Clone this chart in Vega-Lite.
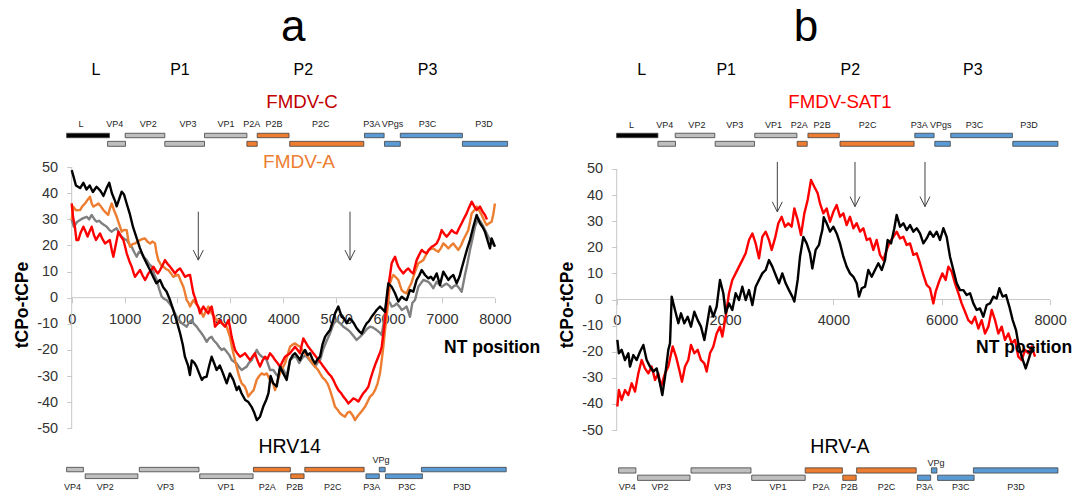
{
"$schema":"https://vega.github.io/schema/vega-lite/v6.json",
"padding":0,"spacing":0,"bounds":"flush",
"config":{"view":{"stroke":null},"font":"Liberation Sans"},
"datasets":{
"A":[
{"s":"g","x":0,"y":29.8},{"s":"g","x":40,"y":27.2},{"s":"g","x":100,"y":29},{"s":"g","x":158,"y":29.8},{"s":"g","x":220,"y":30.5},{"s":"g","x":284,"y":31},{"s":"g","x":330,"y":30},{"s":"g","x":378,"y":31.7},{"s":"g","x":430,"y":30},{"s":"g","x":473,"y":29.1},{"s":"g","x":520,"y":29.5},{"s":"g","x":567,"y":28.5},{"s":"g","x":620,"y":27.8},{"s":"g","x":662,"y":27.2},{"s":"g","x":710,"y":26},{"s":"g","x":756,"y":25.3},{"s":"g","x":800,"y":26},{"s":"g","x":851,"y":26.6},{"s":"g","x":900,"y":24.5},{"s":"g","x":945,"y":23.4},{"s":"g","x":990,"y":22.5},{"s":"g","x":1040,"y":22.1},{"s":"g","x":1090,"y":20.5},{"s":"g","x":1134,"y":19.5},{"s":"g","x":1180,"y":17.5},{"s":"g","x":1229,"y":15.7},{"s":"g","x":1270,"y":17.5},{"s":"g","x":1323,"y":17},{"s":"g","x":1370,"y":15.5},{"s":"g","x":1418,"y":14.4},{"s":"g","x":1460,"y":13},{"s":"g","x":1512,"y":11.9},{"s":"g","x":1560,"y":9},{"s":"g","x":1607,"y":6.8},{"s":"g","x":1650,"y":3.5},{"s":"g","x":1701,"y":0.4},{"s":"g","x":1750,"y":-0.5},{"s":"g","x":1796,"y":-0.9},{"s":"g","x":1840,"y":-2},{"s":"g","x":1890,"y":-3.4},{"s":"g","x":1940,"y":-5.5},{"s":"g","x":1985,"y":-7.3},{"s":"g","x":2030,"y":-8.5},{"s":"g","x":2079,"y":-9.8},{"s":"g","x":2130,"y":-10.5},{"s":"g","x":2174,"y":-11.1},{"s":"g","x":2220,"y":-9.5},{"s":"g","x":2268,"y":-8.6},{"s":"g","x":2310,"y":-10},{"s":"g","x":2363,"y":-11.1},{"s":"g","x":2410,"y":-12.5},{"s":"g","x":2457,"y":-13.7},{"s":"g","x":2500,"y":-15},{"s":"g","x":2552,"y":-16.9},{"s":"g","x":2600,"y":-15.5},{"s":"g","x":2646,"y":-15},{"s":"g","x":2690,"y":-16.5},{"s":"g","x":2740,"y":-17.5},{"s":"g","x":2790,"y":-19},{"s":"g","x":2835,"y":-20},{"s":"g","x":2880,"y":-19.5},{"s":"g","x":2930,"y":-20.7},{"s":"g","x":2980,"y":-22},{"s":"g","x":3024,"y":-23.9},{"s":"g","x":3070,"y":-24.5},{"s":"g","x":3119,"y":-25.2},{"s":"g","x":3160,"y":-26.5},{"s":"g","x":3213,"y":-27.7},{"s":"g","x":3260,"y":-27},{"s":"g","x":3308,"y":-26.4},{"s":"g","x":3350,"y":-25},{"s":"g","x":3403,"y":-23.9},{"s":"g","x":3450,"y":-22},{"s":"g","x":3497,"y":-20},{"s":"g","x":3540,"y":-21.5},{"s":"g","x":3592,"y":-22.6},{"s":"g","x":3640,"y":-23},{"s":"g","x":3686,"y":-23.9},{"s":"g","x":3750,"y":-27.7},{"s":"g","x":3812,"y":-27.7},{"s":"g","x":3870,"y":-29.5},{"s":"g","x":3907,"y":-30.3},{"s":"g","x":3950,"y":-26},{"s":"g","x":4000,"y":-27.5},{"s":"g","x":4064,"y":-30},{"s":"g","x":4127,"y":-24},{"s":"g","x":4180,"y":-23},{"s":"g","x":4240,"y":-22.5},{"s":"g","x":4300,"y":-25},{"s":"g","x":4360,"y":-23},{"s":"g","x":4420,"y":-22},{"s":"g","x":4480,"y":-23.5},{"s":"g","x":4540,"y":-25},{"s":"g","x":4600,"y":-26.5},{"s":"g","x":4660,"y":-24.5},{"s":"g","x":4694,"y":-24},{"s":"g","x":4750,"y":-20},{"s":"g","x":4820,"y":-16.5},{"s":"g","x":4883,"y":-13.7},{"s":"g","x":4950,"y":-10},{"s":"g","x":5010,"y":-8.6},{"s":"g","x":5072,"y":-9.8},{"s":"g","x":5130,"y":-11},{"s":"g","x":5200,"y":-12},{"s":"g","x":5261,"y":-13},{"s":"g","x":5320,"y":-14.5},{"s":"g","x":5387,"y":-16.2},{"s":"g","x":5450,"y":-15},{"s":"g","x":5513,"y":-13.7},{"s":"g","x":5580,"y":-12},{"s":"g","x":5639,"y":-11.1},{"s":"g","x":5700,"y":-11.5},{"s":"g","x":5765,"y":-12.4},{"s":"g","x":5830,"y":-13.5},{"s":"g","x":5860,"y":-14.3},{"s":"g","x":5910,"y":-8},{"s":"g","x":5954,"y":-0.9},{"s":"g","x":6017,"y":-2},{"s":"g","x":6049,"y":-3.4},{"s":"g","x":6100,"y":-3},{"s":"g","x":6143,"y":-2.2},{"s":"g","x":6200,"y":-3.5},{"s":"g","x":6238,"y":-4.7},{"s":"g","x":6290,"y":-4},{"s":"g","x":6332,"y":-3.4},{"s":"g","x":6395,"y":-7.3},{"s":"g","x":6440,"y":-2},{"s":"g","x":6490,"y":-0.9},{"s":"g","x":6553,"y":4.2},{"s":"g","x":6600,"y":5.5},{"s":"g","x":6647,"y":6.8},{"s":"g","x":6742,"y":6.1},{"s":"g","x":6790,"y":5},{"s":"g","x":6836,"y":3.6},{"s":"g","x":6899,"y":6.1},{"s":"g","x":6950,"y":5},{"s":"g","x":6994,"y":4.2},{"s":"g","x":7050,"y":5},{"s":"g","x":7088,"y":5.4},{"s":"g","x":7140,"y":4.5},{"s":"g","x":7183,"y":3.6},{"s":"g","x":7230,"y":4.5},{"s":"g","x":7277,"y":4.8},{"s":"g","x":7330,"y":3.5},{"s":"g","x":7372,"y":2.3},{"s":"g","x":7434,"y":8.7},{"s":"g","x":7480,"y":13},{"s":"g","x":7529,"y":18.3},{"s":"g","x":7592,"y":24},{"s":"g","x":7623,"y":27.2},{"s":"g","x":7686,"y":30.4},{"s":"g","x":7749,"y":28.5},{"s":"g","x":7812,"y":26},{"s":"g","x":7875,"y":23.4},{"s":"g","x":7930,"y":21.5},{"s":"g","x":7970,"y":20.2},
{"s":"o","x":0,"y":29.8},{"s":"o","x":30,"y":34.9},{"s":"o","x":80,"y":33.5},{"s":"o","x":158,"y":33.6},{"s":"o","x":200,"y":35},{"s":"o","x":252,"y":36.1},{"s":"o","x":300,"y":37.5},{"s":"o","x":347,"y":38.7},{"s":"o","x":380,"y":36},{"s":"o","x":410,"y":34.9},{"s":"o","x":460,"y":35.5},{"s":"o","x":505,"y":36.1},{"s":"o","x":550,"y":35},{"s":"o","x":599,"y":33.6},{"s":"o","x":650,"y":32.5},{"s":"o","x":690,"y":31.7},{"s":"o","x":720,"y":34},{"s":"o","x":756,"y":36.1},{"s":"o","x":800,"y":33.5},{"s":"o","x":851,"y":31},{"s":"o","x":900,"y":28},{"s":"o","x":945,"y":25.3},{"s":"o","x":990,"y":26},{"s":"o","x":1040,"y":25.9},{"s":"o","x":1070,"y":22},{"s":"o","x":1103,"y":19.5},{"s":"o","x":1150,"y":20.5},{"s":"o","x":1198,"y":20.8},{"s":"o","x":1250,"y":21.5},{"s":"o","x":1292,"y":22.1},{"s":"o","x":1340,"y":22.5},{"s":"o","x":1386,"y":22.7},{"s":"o","x":1430,"y":21.5},{"s":"o","x":1481,"y":20.8},{"s":"o","x":1530,"y":21.5},{"s":"o","x":1575,"y":20.8},{"s":"o","x":1605,"y":17},{"s":"o","x":1638,"y":14.4},{"s":"o","x":1690,"y":12.5},{"s":"o","x":1733,"y":11.9},{"s":"o","x":1780,"y":11},{"s":"o","x":1827,"y":10.6},{"s":"o","x":1870,"y":9.5},{"s":"o","x":1922,"y":8},{"s":"o","x":1970,"y":8.5},{"s":"o","x":2017,"y":8.7},{"s":"o","x":2060,"y":6.5},{"s":"o","x":2111,"y":4.2},{"s":"o","x":2140,"y":2},{"s":"o","x":2174,"y":-0.9},{"s":"o","x":2210,"y":-2},{"s":"o","x":2237,"y":-3.4},{"s":"o","x":2270,"y":-2},{"s":"o","x":2300,"y":-0.9},{"s":"o","x":2340,"y":-2},{"s":"o","x":2394,"y":-3.4},{"s":"o","x":2440,"y":-5},{"s":"o","x":2489,"y":-7.3},{"s":"o","x":2540,"y":-5},{"s":"o","x":2583,"y":-3.4},{"s":"o","x":2620,"y":-4.5},{"s":"o","x":2646,"y":-6},{"s":"o","x":2700,"y":-7.5},{"s":"o","x":2740,"y":-8.6},{"s":"o","x":2790,"y":-9},{"s":"o","x":2835,"y":-9.8},{"s":"o","x":2880,"y":-10.5},{"s":"o","x":2930,"y":-11.1},{"s":"o","x":2960,"y":-13},{"s":"o","x":2993,"y":-15},{"s":"o","x":3020,"y":-18},{"s":"o","x":3056,"y":-21.3},{"s":"o","x":3100,"y":-25},{"s":"o","x":3150,"y":-29},{"s":"o","x":3180,"y":-31},{"s":"o","x":3213,"y":-32.8},{"s":"o","x":3270,"y":-34},{"s":"o","x":3300,"y":-35.4},{"s":"o","x":3339,"y":-37.9},{"s":"o","x":3390,"y":-36.5},{"s":"o","x":3440,"y":-35.4},{"s":"o","x":3497,"y":-31.5},{"s":"o","x":3545,"y":-30},{"s":"o","x":3592,"y":-29},{"s":"o","x":3640,"y":-29.5},{"s":"o","x":3686,"y":-29},{"s":"o","x":3749,"y":-31.5},{"s":"o","x":3812,"y":-33},{"s":"o","x":3844,"y":-35.4},{"s":"o","x":3890,"y":-32},{"s":"o","x":3938,"y":-29},{"s":"o","x":3985,"y":-27},{"s":"o","x":4032,"y":-25.2},{"s":"o","x":4080,"y":-22},{"s":"o","x":4127,"y":-18.8},{"s":"o","x":4175,"y":-18},{"s":"o","x":4222,"y":-17.5},{"s":"o","x":4270,"y":-18.2},{"s":"o","x":4316,"y":-18.8},{"s":"o","x":4360,"y":-20},{"s":"o","x":4410,"y":-21.3},{"s":"o","x":4460,"y":-22.5},{"s":"o","x":4505,"y":-23.9},{"s":"o","x":4550,"y":-25},{"s":"o","x":4600,"y":-26.4},{"s":"o","x":4650,"y":-27.5},{"s":"o","x":4694,"y":-29},{"s":"o","x":4740,"y":-30.5},{"s":"o","x":4789,"y":-31.5},{"s":"o","x":4840,"y":-33},{"s":"o","x":4883,"y":-35.4},{"s":"o","x":4930,"y":-38.5},{"s":"o","x":4978,"y":-41.8},{"s":"o","x":5030,"y":-43},{"s":"o","x":5072,"y":-44.3},{"s":"o","x":5120,"y":-45},{"s":"o","x":5167,"y":-45.6},{"s":"o","x":5215,"y":-44},{"s":"o","x":5261,"y":-43.7},{"s":"o","x":5310,"y":-45},{"s":"o","x":5356,"y":-46.9},{"s":"o","x":5400,"y":-45.5},{"s":"o","x":5450,"y":-44.3},{"s":"o","x":5500,"y":-43},{"s":"o","x":5545,"y":-41.8},{"s":"o","x":5590,"y":-40},{"s":"o","x":5639,"y":-37.9},{"s":"o","x":5690,"y":-37},{"s":"o","x":5734,"y":-35.4},{"s":"o","x":5780,"y":-33},{"s":"o","x":5828,"y":-29},{"s":"o","x":5860,"y":-24},{"s":"o","x":5891,"y":-18.8},{"s":"o","x":5920,"y":-13},{"s":"o","x":5954,"y":-7.3},{"s":"o","x":5985,"y":-1},{"s":"o","x":6017,"y":5.5},{"s":"o","x":6049,"y":7.5},{"s":"o","x":6080,"y":8.7},{"s":"o","x":6130,"y":7.8},{"s":"o","x":6175,"y":6.8},{"s":"o","x":6210,"y":4.5},{"s":"o","x":6238,"y":2.9},{"s":"o","x":6290,"y":2},{"s":"o","x":6332,"y":1.7},{"s":"o","x":6380,"y":4},{"s":"o","x":6420,"y":5.5},{"s":"o","x":6458,"y":8},{"s":"o","x":6500,"y":10.5},{"s":"o","x":6553,"y":13.2},{"s":"o","x":6600,"y":13.8},{"s":"o","x":6647,"y":14.4},{"s":"o","x":6700,"y":16.5},{"s":"o","x":6742,"y":18.3},{"s":"o","x":6790,"y":18.6},{"s":"o","x":6836,"y":18.9},{"s":"o","x":6880,"y":18.2},{"s":"o","x":6931,"y":17.6},{"s":"o","x":6980,"y":19},{"s":"o","x":7025,"y":20.8},{"s":"o","x":7070,"y":20},{"s":"o","x":7120,"y":18.9},{"s":"o","x":7170,"y":20},{"s":"o","x":7214,"y":20.8},{"s":"o","x":7260,"y":19.5},{"s":"o","x":7309,"y":18.3},{"s":"o","x":7360,"y":20},{"s":"o","x":7403,"y":22.1},{"s":"o","x":7450,"y":24},{"s":"o","x":7498,"y":25.9},{"s":"o","x":7530,"y":29},{"s":"o","x":7561,"y":32.3},{"s":"o","x":7610,"y":33.5},{"s":"o","x":7655,"y":34.9},{"s":"o","x":7700,"y":33.5},{"s":"o","x":7749,"y":31.7},{"s":"o","x":7800,"y":29.5},{"s":"o","x":7844,"y":27.8},{"s":"o","x":7890,"y":28.5},{"s":"o","x":7938,"y":29.1},{"s":"o","x":7970,"y":32},{"s":"o","x":8001,"y":36.1},
{"s":"r","x":0,"y":36.1},{"s":"r","x":25,"y":31},{"s":"r","x":60,"y":27.2},{"s":"r","x":90,"y":22.1},{"s":"r","x":126,"y":22.1},{"s":"r","x":170,"y":25},{"s":"r","x":221,"y":27.2},{"s":"r","x":270,"y":25},{"s":"r","x":300,"y":23.4},{"s":"r","x":340,"y":25.5},{"s":"r","x":378,"y":27.2},{"s":"r","x":420,"y":24},{"s":"r","x":460,"y":22.1},{"s":"r","x":500,"y":23.5},{"s":"r","x":536,"y":24.6},{"s":"r","x":580,"y":22.5},{"s":"r","x":630,"y":20.8},{"s":"r","x":680,"y":21.5},{"s":"r","x":720,"y":22.1},{"s":"r","x":760,"y":18},{"s":"r","x":788,"y":15.7},{"s":"r","x":830,"y":20},{"s":"r","x":882,"y":25.3},{"s":"r","x":930,"y":23.5},{"s":"r","x":977,"y":22.1},{"s":"r","x":1010,"y":19.5},{"s":"r","x":1040,"y":17},{"s":"r","x":1090,"y":14},{"s":"r","x":1134,"y":11.9},{"s":"r","x":1170,"y":9.5},{"s":"r","x":1197,"y":8},{"s":"r","x":1250,"y":9.5},{"s":"r","x":1292,"y":10.6},{"s":"r","x":1340,"y":8.5},{"s":"r","x":1386,"y":6.8},{"s":"r","x":1420,"y":8},{"s":"r","x":1449,"y":9.3},{"s":"r","x":1500,"y":10.5},{"s":"r","x":1544,"y":11.9},{"s":"r","x":1600,"y":10},{"s":"r","x":1630,"y":9.3},{"s":"r","x":1670,"y":10.6},{"s":"r","x":1720,"y":12.5},{"s":"r","x":1764,"y":14.4},{"s":"r","x":1810,"y":13},{"s":"r","x":1859,"y":11.9},{"s":"r","x":1910,"y":10.5},{"s":"r","x":1953,"y":9.3},{"s":"r","x":2000,"y":10.5},{"s":"r","x":2048,"y":11.2},{"s":"r","x":2100,"y":9.5},{"s":"r","x":2143,"y":8},{"s":"r","x":2190,"y":8.5},{"s":"r","x":2237,"y":8.7},{"s":"r","x":2270,"y":5},{"s":"r","x":2300,"y":1.7},{"s":"r","x":2330,"y":0},{"s":"r","x":2363,"y":-2.2},{"s":"r","x":2400,"y":-4},{"s":"r","x":2426,"y":-6},{"s":"r","x":2460,"y":-4.5},{"s":"r","x":2489,"y":-3.4},{"s":"r","x":2540,"y":-5},{"s":"r","x":2583,"y":-6},{"s":"r","x":2620,"y":-4},{"s":"r","x":2646,"y":-3.4},{"s":"r","x":2680,"y":-7},{"s":"r","x":2709,"y":-11.1},{"s":"r","x":2760,"y":-10},{"s":"r","x":2804,"y":-8.6},{"s":"r","x":2850,"y":-10},{"s":"r","x":2898,"y":-11.1},{"s":"r","x":2930,"y":-10},{"s":"r","x":2961,"y":-8.6},{"s":"r","x":2990,"y":-11},{"s":"r","x":3024,"y":-15},{"s":"r","x":3055,"y":-17.5},{"s":"r","x":3087,"y":-20},{"s":"r","x":3135,"y":-21.5},{"s":"r","x":3182,"y":-22.6},{"s":"r","x":3230,"y":-22},{"s":"r","x":3276,"y":-21.3},{"s":"r","x":3320,"y":-22.5},{"s":"r","x":3371,"y":-23.9},{"s":"r","x":3420,"y":-22.5},{"s":"r","x":3465,"y":-21.3},{"s":"r","x":3510,"y":-24},{"s":"r","x":3560,"y":-26.4},{"s":"r","x":3610,"y":-24},{"s":"r","x":3655,"y":-22.6},{"s":"r","x":3700,"y":-23.5},{"s":"r","x":3749,"y":-21.3},{"s":"r","x":3800,"y":-22.5},{"s":"r","x":3844,"y":-23.9},{"s":"r","x":3890,"y":-25},{"s":"r","x":3938,"y":-26.4},{"s":"r","x":3985,"y":-24.5},{"s":"r","x":4032,"y":-22.6},{"s":"r","x":4080,"y":-22},{"s":"r","x":4127,"y":-21.3},{"s":"r","x":4175,"y":-20},{"s":"r","x":4222,"y":-18.8},{"s":"r","x":4270,"y":-20},{"s":"r","x":4316,"y":-21.3},{"s":"r","x":4350,"y":-18},{"s":"r","x":4379,"y":-15.6},{"s":"r","x":4420,"y":-17},{"s":"r","x":4473,"y":-18.8},{"s":"r","x":4520,"y":-20},{"s":"r","x":4568,"y":-21.3},{"s":"r","x":4615,"y":-22.5},{"s":"r","x":4663,"y":-23.9},{"s":"r","x":4710,"y":-25},{"s":"r","x":4757,"y":-26.4},{"s":"r","x":4800,"y":-27.5},{"s":"r","x":4852,"y":-29},{"s":"r","x":4900,"y":-30},{"s":"r","x":4946,"y":-31.5},{"s":"r","x":4990,"y":-33.5},{"s":"r","x":5041,"y":-35.4},{"s":"r","x":5090,"y":-36.5},{"s":"r","x":5135,"y":-37.9},{"s":"r","x":5180,"y":-39},{"s":"r","x":5230,"y":-40.5},{"s":"r","x":5280,"y":-39.5},{"s":"r","x":5324,"y":-38.6},{"s":"r","x":5370,"y":-39},{"s":"r","x":5419,"y":-39.8},{"s":"r","x":5470,"y":-38},{"s":"r","x":5513,"y":-36.6},{"s":"r","x":5560,"y":-35.5},{"s":"r","x":5608,"y":-34.1},{"s":"r","x":5650,"y":-31},{"s":"r","x":5702,"y":-27.7},{"s":"r","x":5750,"y":-25},{"s":"r","x":5797,"y":-22.6},{"s":"r","x":5830,"y":-21},{"s":"r","x":5860,"y":-18.8},{"s":"r","x":5890,"y":-14},{"s":"r","x":5922,"y":-8.6},{"s":"r","x":5955,"y":-2},{"s":"r","x":5985,"y":4.2},{"s":"r","x":6020,"y":9},{"s":"r","x":6049,"y":13.2},{"s":"r","x":6080,"y":14.5},{"s":"r","x":6112,"y":15.7},{"s":"r","x":6145,"y":13.5},{"s":"r","x":6175,"y":11.9},{"s":"r","x":6220,"y":10.5},{"s":"r","x":6269,"y":9.3},{"s":"r","x":6320,"y":10.5},{"s":"r","x":6364,"y":11.2},{"s":"r","x":6410,"y":10},{"s":"r","x":6458,"y":9.3},{"s":"r","x":6490,"y":12},{"s":"r","x":6521,"y":14.4},{"s":"r","x":6570,"y":16.5},{"s":"r","x":6616,"y":18.3},{"s":"r","x":6660,"y":17.5},{"s":"r","x":6710,"y":17},{"s":"r","x":6760,"y":18.5},{"s":"r","x":6804,"y":19.5},{"s":"r","x":6850,"y":20},{"s":"r","x":6899,"y":20.8},{"s":"r","x":6950,"y":23},{"s":"r","x":6994,"y":25.9},{"s":"r","x":7040,"y":24.5},{"s":"r","x":7088,"y":23.4},{"s":"r","x":7135,"y":24.5},{"s":"r","x":7183,"y":25.9},{"s":"r","x":7230,"y":25},{"s":"r","x":7277,"y":24.6},{"s":"r","x":7320,"y":26.5},{"s":"r","x":7372,"y":28.5},{"s":"r","x":7420,"y":30.5},{"s":"r","x":7466,"y":32.3},{"s":"r","x":7510,"y":34.5},{"s":"r","x":7561,"y":36.8},{"s":"r","x":7610,"y":35},{"s":"r","x":7655,"y":33.6},{"s":"r","x":7718,"y":34.9},{"s":"r","x":7765,"y":33},{"s":"r","x":7812,"y":31.7},{"s":"r","x":7850,"y":30},
{"s":"k","x":0,"y":48.9},{"s":"k","x":40,"y":46},{"s":"k","x":80,"y":43},{"s":"k","x":160,"y":42},{"s":"k","x":220,"y":44},{"s":"k","x":280,"y":41.5},{"s":"k","x":340,"y":43},{"s":"k","x":400,"y":40.5},{"s":"k","x":470,"y":42.5},{"s":"k","x":540,"y":41},{"s":"k","x":600,"y":39},{"s":"k","x":660,"y":42},{"s":"k","x":710,"y":44},{"s":"k","x":760,"y":40},{"s":"k","x":820,"y":37},{"s":"k","x":850,"y":35},{"s":"k","x":900,"y":38},{"s":"k","x":945,"y":40.6},{"s":"k","x":990,"y":39.5},{"s":"k","x":1040,"y":36},{"s":"k","x":1100,"y":32},{"s":"k","x":1160,"y":27},{"s":"k","x":1230,"y":22.7},{"s":"k","x":1290,"y":19},{"s":"k","x":1355,"y":15.7},{"s":"k","x":1420,"y":13},{"s":"k","x":1480,"y":10.6},{"s":"k","x":1540,"y":8},{"s":"k","x":1600,"y":5.5},{"s":"k","x":1670,"y":6.8},{"s":"k","x":1730,"y":4},{"s":"k","x":1795,"y":2.3},{"s":"k","x":1860,"y":-1},{"s":"k","x":1920,"y":-4.7},{"s":"k","x":1985,"y":-9},{"s":"k","x":2050,"y":-13.7},{"s":"k","x":2100,"y":-18},{"s":"k","x":2140,"y":-22.6},{"s":"k","x":2200,"y":-26},{"s":"k","x":2235,"y":-29.6},{"s":"k","x":2270,"y":-24},{"s":"k","x":2320,"y":-25},{"s":"k","x":2360,"y":-26.4},{"s":"k","x":2410,"y":-29},{"s":"k","x":2460,"y":-31.5},{"s":"k","x":2500,"y":-30.5},{"s":"k","x":2550,"y":-30.3},{"s":"k","x":2600,"y":-26},{"s":"k","x":2645,"y":-22.6},{"s":"k","x":2700,"y":-25.5},{"s":"k","x":2740,"y":-27.7},{"s":"k","x":2800,"y":-26},{"s":"k","x":2860,"y":-29},{"s":"k","x":2930,"y":-32.8},{"s":"k","x":2990,"y":-29},{"s":"k","x":3055,"y":-31.5},{"s":"k","x":3120,"y":-35.4},{"s":"k","x":3160,"y":-34},{"s":"k","x":3210,"y":-36.6},{"s":"k","x":3280,"y":-39.2},{"s":"k","x":3340,"y":-40},{"s":"k","x":3400,"y":-41.8},{"s":"k","x":3450,"y":-44},{"s":"k","x":3500,"y":-46.9},{"s":"k","x":3560,"y":-45.6},{"s":"k","x":3620,"y":-41.8},{"s":"k","x":3680,"y":-39},{"s":"k","x":3720,"y":-36.6},{"s":"k","x":3760,"y":-30},{"s":"k","x":3810,"y":-32.8},{"s":"k","x":3875,"y":-34},{"s":"k","x":3938,"y":-26.4},{"s":"k","x":4000,"y":-29},{"s":"k","x":4064,"y":-31.5},{"s":"k","x":4127,"y":-23.9},{"s":"k","x":4180,"y":-22},{"s":"k","x":4222,"y":-21.3},{"s":"k","x":4270,"y":-22.5},{"s":"k","x":4316,"y":-23.9},{"s":"k","x":4360,"y":-21.5},{"s":"k","x":4410,"y":-20},{"s":"k","x":4460,"y":-22},{"s":"k","x":4505,"y":-21.3},{"s":"k","x":4550,"y":-23.5},{"s":"k","x":4600,"y":-25.2},{"s":"k","x":4650,"y":-23.5},{"s":"k","x":4694,"y":-22.6},{"s":"k","x":4740,"y":-18},{"s":"k","x":4789,"y":-15},{"s":"k","x":4840,"y":-13.5},{"s":"k","x":4883,"y":-12.4},{"s":"k","x":4930,"y":-9.5},{"s":"k","x":4978,"y":-6},{"s":"k","x":5040,"y":-3.4},{"s":"k","x":5104,"y":-7.3},{"s":"k","x":5150,"y":-8},{"s":"k","x":5198,"y":-9.8},{"s":"k","x":5250,"y":-8},{"s":"k","x":5293,"y":-8.6},{"s":"k","x":5340,"y":-10},{"s":"k","x":5387,"y":-11.7},{"s":"k","x":5440,"y":-13},{"s":"k","x":5482,"y":-13.7},{"s":"k","x":5530,"y":-11.5},{"s":"k","x":5576,"y":-9.8},{"s":"k","x":5620,"y":-9},{"s":"k","x":5670,"y":-7.3},{"s":"k","x":5720,"y":-6},{"s":"k","x":5765,"y":-4.7},{"s":"k","x":5828,"y":-3.4},{"s":"k","x":5880,"y":-4.5},{"s":"k","x":5922,"y":-5.4},{"s":"k","x":5985,"y":5.5},{"s":"k","x":6049,"y":4.2},{"s":"k","x":6112,"y":1.7},{"s":"k","x":6175,"y":-1.5},{"s":"k","x":6238,"y":0.4},{"s":"k","x":6290,"y":-0.5},{"s":"k","x":6332,"y":-0.9},{"s":"k","x":6395,"y":2.9},{"s":"k","x":6458,"y":2.3},{"s":"k","x":6521,"y":6.8},{"s":"k","x":6570,"y":8.5},{"s":"k","x":6616,"y":10.6},{"s":"k","x":6679,"y":8.7},{"s":"k","x":6742,"y":7.4},{"s":"k","x":6790,"y":8},{"s":"k","x":6836,"y":6.8},{"s":"k","x":6899,"y":9.3},{"s":"k","x":6962,"y":4.9},{"s":"k","x":7025,"y":10},{"s":"k","x":7070,"y":8.5},{"s":"k","x":7120,"y":6.8},{"s":"k","x":7170,"y":8},{"s":"k","x":7214,"y":8.7},{"s":"k","x":7277,"y":5.5},{"s":"k","x":7330,"y":8},{"s":"k","x":7372,"y":11.2},{"s":"k","x":7434,"y":15.7},{"s":"k","x":7480,"y":19},{"s":"k","x":7529,"y":22.1},{"s":"k","x":7592,"y":27.2},{"s":"k","x":7655,"y":31.7},{"s":"k","x":7718,"y":28.5},{"s":"k","x":7770,"y":27},{"s":"k","x":7812,"y":25.3},{"s":"k","x":7860,"y":22},{"s":"k","x":7907,"y":18.9},{"s":"k","x":7938,"y":22.7},{"s":"k","x":8001,"y":19.5}
],
"B":[
{"s":"r","x":12,"y":-41},{"s":"r","x":40,"y":-34.7},{"s":"r","x":92,"y":-38.5},{"s":"r","x":153,"y":-34.7},{"s":"r","x":215,"y":-36.6},{"s":"r","x":276,"y":-32.1},{"s":"r","x":338,"y":-35.3},{"s":"r","x":399,"y":-28.3},{"s":"r","x":461,"y":-23.2},{"s":"r","x":522,"y":-26.4},{"s":"r","x":584,"y":-28.3},{"s":"r","x":645,"y":-25.7},{"s":"r","x":707,"y":-30.8},{"s":"r","x":768,"y":-28.3},{"s":"r","x":818,"y":-33.4},{"s":"r","x":892,"y":-28.3},{"s":"r","x":953,"y":-25.7},{"s":"r","x":1033,"y":-18},{"s":"r","x":1095,"y":-21.9},{"s":"r","x":1156,"y":-27},{"s":"r","x":1205,"y":-31.5},{"s":"r","x":1261,"y":-25.7},{"s":"r","x":1322,"y":-23.2},{"s":"r","x":1371,"y":-17.4},{"s":"r","x":1433,"y":-20.6},{"s":"r","x":1495,"y":-19.3},{"s":"r","x":1556,"y":-23.2},{"s":"r","x":1618,"y":-24.5},{"s":"r","x":1661,"y":-27.6},{"s":"r","x":1722,"y":-20.6},{"s":"r","x":1784,"y":-18},{"s":"r","x":1845,"y":-13},{"s":"r","x":1907,"y":-10.4},{"s":"r","x":1950,"y":-14.2},{"s":"r","x":2011,"y":-6.6},{"s":"r","x":2073,"y":2.4},{"s":"r","x":2134,"y":7.5},{"s":"r","x":2196,"y":10},{"s":"r","x":2258,"y":12.6},{"s":"r","x":2319,"y":15.1},{"s":"r","x":2381,"y":17.7},{"s":"r","x":2442,"y":22.8},{"s":"r","x":2504,"y":25.3},{"s":"r","x":2565,"y":21.5},{"s":"r","x":2627,"y":15.8},{"s":"r","x":2688,"y":24},{"s":"r","x":2750,"y":26},{"s":"r","x":2811,"y":22.8},{"s":"r","x":2861,"y":19},{"s":"r","x":2922,"y":23.4},{"s":"r","x":2984,"y":29.2},{"s":"r","x":3045,"y":31.7},{"s":"r","x":3107,"y":27.9},{"s":"r","x":3168,"y":29.2},{"s":"r","x":3230,"y":27.9},{"s":"r","x":3279,"y":34.9},{"s":"r","x":3341,"y":30.5},{"s":"r","x":3402,"y":24.7},{"s":"r","x":3464,"y":33},{"s":"r","x":3525,"y":38.1},{"s":"r","x":3587,"y":45.8},{"s":"r","x":3648,"y":43.2},{"s":"r","x":3710,"y":40.7},{"s":"r","x":3753,"y":36.8},{"s":"r","x":3815,"y":33},{"s":"r","x":3876,"y":34.9},{"s":"r","x":3938,"y":29.8},{"s":"r","x":4000,"y":33.6},{"s":"r","x":4061,"y":36.2},{"s":"r","x":4122,"y":31.7},{"s":"r","x":4184,"y":33},{"s":"r","x":4245,"y":28.5},{"s":"r","x":4307,"y":31.7},{"s":"r","x":4369,"y":27.3},{"s":"r","x":4430,"y":29.2},{"s":"r","x":4492,"y":26},{"s":"r","x":4553,"y":27.3},{"s":"r","x":4615,"y":22.8},{"s":"r","x":4676,"y":23.4},{"s":"r","x":4738,"y":19},{"s":"r","x":4799,"y":22.8},{"s":"r","x":4861,"y":17.1},{"s":"r","x":4922,"y":15.1},{"s":"r","x":4984,"y":19},{"s":"r","x":5045,"y":22.2},{"s":"r","x":5107,"y":24},{"s":"r","x":5168,"y":26},{"s":"r","x":5230,"y":23.4},{"s":"r","x":5292,"y":24},{"s":"r","x":5353,"y":20.9},{"s":"r","x":5415,"y":21.5},{"s":"r","x":5476,"y":17.1},{"s":"r","x":5538,"y":17.7},{"s":"r","x":5599,"y":13.9},{"s":"r","x":5661,"y":9.4},{"s":"r","x":5722,"y":5.6},{"s":"r","x":5784,"y":4.3},{"s":"r","x":5845,"y":-1.5},{"s":"r","x":5888,"y":3},{"s":"r","x":5950,"y":6.8},{"s":"r","x":6011,"y":10},{"s":"r","x":6073,"y":7.5},{"s":"r","x":6122,"y":12.6},{"s":"r","x":6184,"y":10.7},{"s":"r","x":6245,"y":6.2},{"s":"r","x":6307,"y":2.4},{"s":"r","x":6368,"y":-1.5},{"s":"r","x":6430,"y":-4.7},{"s":"r","x":6491,"y":-7.9},{"s":"r","x":6553,"y":-9.2},{"s":"r","x":6614,"y":-6.6},{"s":"r","x":6676,"y":-11.1},{"s":"r","x":6737,"y":-7.9},{"s":"r","x":6799,"y":-13},{"s":"r","x":6860,"y":-10.4},{"s":"r","x":6922,"y":-4},{"s":"r","x":6984,"y":-7.9},{"s":"r","x":7045,"y":-13},{"s":"r","x":7107,"y":-10.4},{"s":"r","x":7168,"y":-15.5},{"s":"r","x":7230,"y":-13},{"s":"r","x":7291,"y":-16.8},{"s":"r","x":7353,"y":-15.5},{"s":"r","x":7414,"y":-21.9},{"s":"r","x":7476,"y":-23.2},{"s":"r","x":7538,"y":-19.3},{"s":"r","x":7599,"y":-20.6},{"s":"r","x":7661,"y":-18},{"s":"r","x":7722,"y":-21.9},
{"s":"k","x":12,"y":-15.5},{"s":"k","x":40,"y":-20.6},{"s":"k","x":92,"y":-19.3},{"s":"k","x":153,"y":-23.2},{"s":"k","x":215,"y":-20.6},{"s":"k","x":245,"y":-25.7},{"s":"k","x":307,"y":-21.3},{"s":"k","x":369,"y":-23.2},{"s":"k","x":430,"y":-20},{"s":"k","x":492,"y":-17.4},{"s":"k","x":553,"y":-23.2},{"s":"k","x":615,"y":-25.7},{"s":"k","x":676,"y":-27.6},{"s":"k","x":738,"y":-26.4},{"s":"k","x":799,"y":-32.1},{"s":"k","x":842,"y":-36.6},{"s":"k","x":892,"y":-29.6},{"s":"k","x":953,"y":-19.3},{"s":"k","x":984,"y":-16.8},{"s":"k","x":1015,"y":1.1},{"s":"k","x":1076,"y":-4},{"s":"k","x":1138,"y":-9.1},{"s":"k","x":1187,"y":-5.3},{"s":"k","x":1248,"y":-9.1},{"s":"k","x":1310,"y":-6.6},{"s":"k","x":1371,"y":-10.4},{"s":"k","x":1433,"y":-4.7},{"s":"k","x":1495,"y":-7.9},{"s":"k","x":1556,"y":-10.4},{"s":"k","x":1618,"y":-15.5},{"s":"k","x":1661,"y":-10.4},{"s":"k","x":1722,"y":-2.7},{"s":"k","x":1784,"y":-6.6},{"s":"k","x":1845,"y":-2.7},{"s":"k","x":1907,"y":7.5},{"s":"k","x":1968,"y":2.4},{"s":"k","x":2011,"y":-5.3},{"s":"k","x":2073,"y":-1.5},{"s":"k","x":2134,"y":-4},{"s":"k","x":2196,"y":2.4},{"s":"k","x":2258,"y":-0.2},{"s":"k","x":2319,"y":4.9},{"s":"k","x":2381,"y":-0.2},{"s":"k","x":2442,"y":3.6},{"s":"k","x":2504,"y":-2.1},{"s":"k","x":2565,"y":4.9},{"s":"k","x":2627,"y":7.5},{"s":"k","x":2688,"y":10},{"s":"k","x":2750,"y":11.3},{"s":"k","x":2811,"y":15.1},{"s":"k","x":2873,"y":12.6},{"s":"k","x":2934,"y":9.4},{"s":"k","x":2996,"y":6.2},{"s":"k","x":3057,"y":10},{"s":"k","x":3119,"y":6.2},{"s":"k","x":3180,"y":3.6},{"s":"k","x":3242,"y":1.1},{"s":"k","x":3279,"y":-0.8},{"s":"k","x":3341,"y":7.5},{"s":"k","x":3384,"y":16.4},{"s":"k","x":3445,"y":24},{"s":"k","x":3507,"y":21.5},{"s":"k","x":3568,"y":17.7},{"s":"k","x":3611,"y":11.9},{"s":"k","x":3673,"y":19},{"s":"k","x":3734,"y":20.9},{"s":"k","x":3765,"y":24},{"s":"k","x":3796,"y":26.6},{"s":"k","x":3822,"y":31.5},{"s":"k","x":3876,"y":29.2},{"s":"k","x":3938,"y":26},{"s":"k","x":4000,"y":27.9},{"s":"k","x":4061,"y":25.3},{"s":"k","x":4122,"y":21.5},{"s":"k","x":4184,"y":16.4},{"s":"k","x":4245,"y":12.6},{"s":"k","x":4307,"y":10},{"s":"k","x":4369,"y":8.7},{"s":"k","x":4430,"y":6.2},{"s":"k","x":4473,"y":1.1},{"s":"k","x":4522,"y":4.3},{"s":"k","x":4584,"y":4.9},{"s":"k","x":4645,"y":11.3},{"s":"k","x":4707,"y":8.7},{"s":"k","x":4768,"y":11.3},{"s":"k","x":4830,"y":13.9},{"s":"k","x":4892,"y":11.3},{"s":"k","x":4953,"y":15.1},{"s":"k","x":5002,"y":22.8},{"s":"k","x":5064,"y":21.5},{"s":"k","x":5125,"y":27.3},{"s":"k","x":5168,"y":32.4},{"s":"k","x":5230,"y":27.9},{"s":"k","x":5292,"y":29.2},{"s":"k","x":5353,"y":26.6},{"s":"k","x":5415,"y":28.5},{"s":"k","x":5476,"y":26},{"s":"k","x":5538,"y":27.3},{"s":"k","x":5599,"y":25.3},{"s":"k","x":5661,"y":21.5},{"s":"k","x":5722,"y":23.4},{"s":"k","x":5784,"y":26},{"s":"k","x":5845,"y":24},{"s":"k","x":5907,"y":26},{"s":"k","x":5968,"y":22.8},{"s":"k","x":6030,"y":27.3},{"s":"k","x":6091,"y":24},{"s":"k","x":6153,"y":16.4},{"s":"k","x":6215,"y":11.3},{"s":"k","x":6276,"y":6.2},{"s":"k","x":6338,"y":3.6},{"s":"k","x":6400,"y":3.6},{"s":"k","x":6461,"y":1.7},{"s":"k","x":6522,"y":2.4},{"s":"k","x":6584,"y":-1.5},{"s":"k","x":6645,"y":-4},{"s":"k","x":6707,"y":-3.4},{"s":"k","x":6768,"y":-6.6},{"s":"k","x":6830,"y":-2.1},{"s":"k","x":6891,"y":-1.5},{"s":"k","x":6953,"y":1.1},{"s":"k","x":7014,"y":0.4},{"s":"k","x":7064,"y":4.3},{"s":"k","x":7125,"y":1.1},{"s":"k","x":7187,"y":1.7},{"s":"k","x":7248,"y":-2.7},{"s":"k","x":7310,"y":-7.9},{"s":"k","x":7371,"y":-11.7},{"s":"k","x":7414,"y":-16.8},{"s":"k","x":7476,"y":-21.9},{"s":"k","x":7550,"y":-26.4},{"s":"k","x":7599,"y":-23.2},{"s":"k","x":7661,"y":-19.3},{"s":"k","x":7710,"y":-18}
],
"mA":[
{"g":"L","a":-96,"b":714,"r":"t1","c":"k","lx":176},{"g":"VP4","a":678,"b":1017,"r":"t2","c":"v","lx":815},{"g":"VP2","a":1011,"b":1760,"r":"t1","c":"v","lx":1448},{"g":"VP3","a":1760,"b":2511,"r":"t2","c":"v","lx":2197},{"g":"VP1","a":2511,"b":3312,"r":"t1","c":"v","lx":2915},{"g":"P2A","a":3312,"b":3507,"r":"t2","c":"o","lx":3403},{"g":"P2B","a":3507,"b":4108,"r":"t1","c":"o","lx":3826},{"g":"P2C","a":4121,"b":5522,"r":"t2","c":"o","lx":4707},{"g":"P3A","a":5535,"b":5906,"r":"t1","c":"u","lx":5671},{"g":"VPgs","a":5913,"b":6212,"r":"t2","c":"u","lx":6063},{"g":"P3C","a":6212,"b":7386,"r":"t1","c":"u","lx":6728},{"g":"P3D","a":7386,"b":8240,"r":"t2","c":"u","lx":7796},
{"g":"VP4","a":-96,"b":221,"r":"b1","c":"v","lx":13},{"g":"VP2","a":255,"b":1251,"r":"b2","c":"v","lx":633},{"g":"VP3","a":1278,"b":2406,"r":"b1","c":"v","lx":1773},{"g":"VP1","a":2420,"b":3429,"r":"b2","c":"v","lx":2915},{"g":"P2A","a":3435,"b":4133,"r":"b1","c":"o","lx":3696},{"g":"P2B","a":4140,"b":4393,"r":"b2","c":"o","lx":4218},{"g":"P2C","a":4407,"b":5528,"r":"b1","c":"o","lx":4936},{"g":"P3A","a":5562,"b":5815,"r":"b2","c":"u","lx":5671},{"g":"VPg","a":5815,"b":5926,"r":"b1","c":"u","lx":5847},{"g":"P3C","a":5932,"b":6630,"r":"b2","c":"u","lx":6337},{"g":"P3D","a":6611,"b":8214,"r":"b1","c":"u","lx":7380}
],
"mB":[
{"g":"L","a":-2,"b":761,"r":"t1","c":"k","lx":271},{"g":"VP4","a":761,"b":1085,"r":"t2","c":"v","lx":888},{"g":"VP2","a":1080,"b":1811,"r":"t1","c":"v","lx":1480},{"g":"VP3","a":1818,"b":2544,"r":"t2","c":"v","lx":2180},{"g":"VP1","a":2549,"b":3327,"r":"t1","c":"v","lx":2893},{"g":"P2A","a":3332,"b":3517,"r":"t2","c":"o","lx":3371},{"g":"P2B","a":3530,"b":4109,"r":"t1","c":"o","lx":3792},{"g":"P2C","a":4122,"b":5490,"r":"t2","c":"o","lx":4632},{"g":"P3A","a":5503,"b":5859,"r":"t1","c":"u","lx":5586},{"g":"VPgs","a":5872,"b":6158,"r":"t2","c":"u","lx":5981},{"g":"P3C","a":6166,"b":7305,"r":"t1","c":"u","lx":6605},{"g":"P3D","a":7312,"b":8145,"r":"t2","c":"u","lx":7611},
{"g":"VP4","a":35,"b":354,"r":"b1","c":"v","lx":194},{"g":"VP2","a":386,"b":1353,"r":"b2","c":"v","lx":799},{"g":"VP3","a":1372,"b":2479,"r":"b1","c":"v","lx":1959},{"g":"VP1","a":2492,"b":3480,"r":"b2","c":"v","lx":2976},{"g":"P2A","a":3480,"b":4166,"r":"b1","c":"o","lx":3771},{"g":"P2B","a":4174,"b":4421,"r":"b2","c":"o","lx":4294},{"g":"P2C","a":4429,"b":5529,"r":"b1","c":"o","lx":4982},{"g":"P3A","a":5555,"b":5796,"r":"b2","c":"u","lx":5682},{"g":"VPg","a":5809,"b":5911,"r":"b1","c":"u","lx":5892},{"g":"P3C","a":5924,"b":6598,"r":"b2","c":"u","lx":6350},{"g":"P3D","a":6585,"b":8145,"r":"b1","c":"u","lx":7369}
]
},
"hconcat":[
{"width":540,"height":494,
"resolve":{"axis":{"x":"independent","y":"independent"}},
"layer":[
{"data":{"values":[{}]},"mark":{"type":"rule","color":"#c8c8c8","strokeWidth":1},"encoding":{
"x":{"datum":0,"type":"quantitative","scale":{"domain":[-1355.4,8852.7],"nice":false,"zero":false},"axis":{"orient":"bottom","values":[0,1000,2000,3000,4000,5000,6000,7000,8000],"labelExpr":"datum.value + ''","domain":false,"grid":false,"tickSize":5,"tickColor":"#c8c8c8","labelFontSize":14.5,"labelColor":"#333333","labelPadding":10,"labelFlush":false,"labelOverlap":false,"title":null,"offset":-196.3}},
"x2":{"datum":8000},
"y":{"datum":0,"type":"quantitative","scale":{"domain":[-75.21,114.06],"nice":false,"zero":false},"axis":{"orient":"left","values":[-50,-40,-30,-20,-10,0,10,20,30,40,50],"labelExpr":"datum.value + ''","domain":false,"grid":false,"tickSize":5,"tickColor":"#c8c8c8","labelFontSize":14.5,"labelColor":"#333333","labelPadding":9,"labelOverlap":false,"title":null,"offset":-71.7}}}},
{"data":{"values":[{}]},"mark":{"type":"rule","color":"#c8c8c8","strokeWidth":1},"encoding":{"x":{"datum":0,"type":"quantitative","axis":null},"y":{"datum":-50,"type":"quantitative","axis":null},"y2":{"datum":50}}},
{"data":{"name":"A"},"mark":{"type":"line","strokeWidth":2.4,"strokeJoin":"round"},
"encoding":{
"x":{"field":"x","type":"quantitative","axis":null},
"y":{"field":"y","type":"quantitative","axis":null},
"stroke":{"field":"s","type":"nominal","scale":{"domain":["g","o","r","k"],"range":["#808080","#ed7d31","#ff0000","#000000"]},"legend":null}}},
{"data":{"values":[{"x":2393,"y":32.95,"y2":14.4},{"x":5261,"y":32.95,"y2":14.4}]},"mark":{"type":"rule","color":"#404040","strokeWidth":1},"encoding":{"x":{"field":"x","type":"quantitative","axis":null},"y":{"field":"y","type":"quantitative","axis":null},"y2":{"field":"y2"}}},
{"data":{"values":[{"x":2393,"y":14.4},{"x":5261,"y":14.4}]},"mark":{"type":"point","shape":"M-0.5,-1L0,0L0.5,-1","size":400,"filled":false,"stroke":"#404040","strokeWidth":1,"opacity":1},"encoding":{"x":{"field":"x","type":"quantitative","axis":null},"y":{"field":"y","type":"quantitative","axis":null}}},
{"data":{"name":"mA"},"transform":[{"filter":{"field":"r","equal":"t1"}}],"mark":{"type":"rect","stroke":"#404040","strokeWidth":0.8},"encoding":{"x":{"field":"a","type":"quantitative","axis":null},"x2":{"field":"b"},"y":{"datum":63.0,"type":"quantitative","axis":null},"y2":{"datum":61.3},"fill":{"field":"c","type":"nominal","scale":{"domain":["k","v","o","u"],"range":["#000000","#bfbfbf","#ed7d31","#5b9bd5"]},"legend":null}}},
{"data":{"name":"mA"},"transform":[{"filter":{"field":"r","equal":"t2"}}],"mark":{"type":"rect","stroke":"#404040","strokeWidth":0.8},"encoding":{"x":{"field":"a","type":"quantitative","axis":null},"x2":{"field":"b"},"y":{"datum":59.9,"type":"quantitative","axis":null},"y2":{"datum":58.0},"fill":{"field":"c","type":"nominal","scale":{"domain":["k","v","o","u"],"range":["#000000","#bfbfbf","#ed7d31","#5b9bd5"]},"legend":null}}},
{"data":{"name":"mA"},"transform":[{"filter":{"field":"r","equal":"b1"}}],"mark":{"type":"rect","stroke":"#404040","strokeWidth":0.8},"encoding":{"x":{"field":"a","type":"quantitative","axis":null},"x2":{"field":"b"},"y":{"datum":-65.0,"type":"quantitative","axis":null},"y2":{"datum":-66.7},"fill":{"field":"c","type":"nominal","scale":{"domain":["k","v","o","u"],"range":["#000000","#bfbfbf","#ed7d31","#5b9bd5"]},"legend":null}}},
{"data":{"name":"mA"},"transform":[{"filter":{"field":"r","equal":"b2"}}],"mark":{"type":"rect","stroke":"#404040","strokeWidth":0.8},"encoding":{"x":{"field":"a","type":"quantitative","axis":null},"x2":{"field":"b"},"y":{"datum":-67.5,"type":"quantitative","axis":null},"y2":{"datum":-69.3},"fill":{"field":"c","type":"nominal","scale":{"domain":["k","v","o","u"],"range":["#000000","#bfbfbf","#ed7d31","#5b9bd5"]},"legend":null}}},
{"data":{"name":"mA"},"transform":[{"filter":{"field":"r","oneOf":["t1","t2"]}}],"mark":{"type":"text","fontSize":9,"color":"#222222","baseline":"middle"},"encoding":{"x":{"field":"lx","type":"quantitative","axis":null},"y":{"datum":66.4,"type":"quantitative","axis":null},"text":{"field":"g"}}},
{"data":{"name":"mA"},"transform":[{"filter":{"and":[{"field":"r","oneOf":["b1","b2"]},{"not":{"field":"g","equal":"VPg"}}]}}],"mark":{"type":"text","fontSize":9,"color":"#222222","baseline":"middle"},"encoding":{"x":{"field":"lx","type":"quantitative","axis":null},"y":{"datum":-72.5,"type":"quantitative","axis":null},"text":{"field":"g"}}},
{"data":{"name":"mA"},"transform":[{"filter":{"field":"g","equal":"VPg"}}],"mark":{"type":"text","fontSize":9,"color":"#222222","baseline":"middle"},"encoding":{"x":{"field":"lx","type":"quantitative","axis":null},"y":{"datum":-62.3,"type":"quantitative","axis":null},"text":{"field":"g"}}},
{"data":{"values":[{"t":"L","x":457},{"t":"P1","x":2047},{"t":"P2","x":4380},{"t":"P3","x":6728}]},"mark":{"type":"text","fontSize":16,"color":"#000000","baseline":"middle"},"encoding":{"x":{"field":"x","type":"quantitative","axis":null},"y":{"datum":87.3,"type":"quantitative","axis":null},"text":{"field":"t"}}},
{"data":{"values":[{"t":"a"}]},"mark":{"type":"text","fontSize":44,"color":"#000000","baseline":"alphabetic"},"encoding":{"x":{"datum":4189,"type":"quantitative","axis":null},"y":{"datum":98.4,"type":"quantitative","axis":null},"text":{"field":"t"}}},
{"data":{"values":[{"t":"FMDV-C"}]},"mark":{"type":"text","fontSize":18.7,"color":"#c00000","baseline":"middle"},"encoding":{"x":{"datum":4354,"type":"quantitative","axis":null},"y":{"datum":75.0,"type":"quantitative","axis":null},"text":{"field":"t"}}},
{"data":{"values":[{"t":"FMDV-A"}]},"mark":{"type":"text","fontSize":19,"color":"#ed7d31","baseline":"middle"},"encoding":{"x":{"datum":4297,"type":"quantitative","axis":null},"y":{"datum":51.9,"type":"quantitative","axis":null},"text":{"field":"t"}}},
{"data":{"values":[{"t":"HRV14"}]},"mark":{"type":"text","fontSize":19.5,"color":"#000000","baseline":"middle"},"encoding":{"x":{"datum":4121,"type":"quantitative","axis":null},"y":{"datum":-57.3,"type":"quantitative","axis":null},"text":{"field":"t"}}},
{"data":{"values":[{"t":"tCPo-tCPe"}]},"mark":{"type":"text","fontSize":17.5,"fontWeight":"bold","color":"#000000","baseline":"middle","angle":270},"encoding":{"x":{"datum":-928,"type":"quantitative","axis":null},"y":{"datum":-2.8,"type":"quantitative","axis":null},"text":{"field":"t"}}},
{"data":{"values":[{"t":"NT position"}]},"mark":{"type":"text","fontSize":17.5,"fontWeight":"bold","color":"#000000","baseline":"middle","align":"left"},"encoding":{"x":{"datum":7038,"type":"quantitative","axis":null},"y":{"datum":-19.1,"type":"quantitative","axis":null},"text":{"field":"t"}}}
]},
{"width":540,"height":494,
"resolve":{"axis":{"x":"independent","y":"independent"}},
"layer":[
{"data":{"values":[{}]},"mark":{"type":"rule","color":"#c8c8c8","strokeWidth":1},"encoding":{
"x":{"datum":0,"type":"quantitative","scale":{"domain":[-1415.9,8552.5],"nice":false,"zero":false},"axis":{"orient":"bottom","values":[0,2000,4000,6000,8000],"labelExpr":"datum.value + ''","domain":false,"grid":false,"tickSize":5,"tickColor":"#c8c8c8","labelFontSize":14.5,"labelColor":"#333333","labelPadding":9,"labelFlush":false,"labelOverlap":false,"title":null,"offset":-194.5}},
"x2":{"datum":8000},
"y":{"datum":0,"type":"quantitative","scale":{"domain":[-74.52,114.75],"nice":false,"zero":false},"axis":{"orient":"left","values":[-50,-40,-30,-20,-10,0,10,20,30,40,50],"labelExpr":"datum.value + ''","domain":false,"grid":false,"tickSize":5,"tickColor":"#c8c8c8","labelFontSize":14.5,"labelColor":"#333333","labelPadding":9,"labelOverlap":false,"title":null,"offset":-76.7}}}},
{"data":{"values":[{}]},"mark":{"type":"rule","color":"#c8c8c8","strokeWidth":1},"encoding":{"x":{"datum":0,"type":"quantitative","axis":null},"y":{"datum":-50,"type":"quantitative","axis":null},"y2":{"datum":50}}},
{"data":{"name":"B"},"mark":{"type":"line","strokeWidth":2.4,"strokeJoin":"round"},
"encoding":{
"x":{"field":"x","type":"quantitative","axis":null},
"y":{"field":"y","type":"quantitative","axis":null},
"stroke":{"field":"s","type":"nominal","scale":{"domain":["r","k"],"range":["#ff0000","#000000"]},"legend":null}}},
{"data":{"values":[{"x":2965,"y":52.7,"y2":33.6},{"x":4399,"y":52.7,"y2":35.6},{"x":5691,"y":52.7,"y2":35.6}]},"mark":{"type":"rule","color":"#404040","strokeWidth":1},"encoding":{"x":{"field":"x","type":"quantitative","axis":null},"y":{"field":"y","type":"quantitative","axis":null},"y2":{"field":"y2"}}},
{"data":{"values":[{"x":2965,"y":33.6},{"x":4399,"y":35.6},{"x":5691,"y":35.6}]},"mark":{"type":"point","shape":"M-0.5,-1L0,0L0.5,-1","size":400,"filled":false,"stroke":"#404040","strokeWidth":1,"opacity":1},"encoding":{"x":{"field":"x","type":"quantitative","axis":null},"y":{"field":"y","type":"quantitative","axis":null}}},
{"data":{"name":"mB"},"transform":[{"filter":{"field":"r","equal":"t1"}}],"mark":{"type":"rect","stroke":"#404040","strokeWidth":0.8},"encoding":{"x":{"field":"a","type":"quantitative","axis":null},"x2":{"field":"b"},"y":{"datum":63.7,"type":"quantitative","axis":null},"y2":{"datum":62.0},"fill":{"field":"c","type":"nominal","scale":{"domain":["k","v","o","u"],"range":["#000000","#bfbfbf","#ed7d31","#5b9bd5"]},"legend":null}}},
{"data":{"name":"mB"},"transform":[{"filter":{"field":"r","equal":"t2"}}],"mark":{"type":"rect","stroke":"#404040","strokeWidth":0.8},"encoding":{"x":{"field":"a","type":"quantitative","axis":null},"x2":{"field":"b"},"y":{"datum":60.6,"type":"quantitative","axis":null},"y2":{"datum":58.7},"fill":{"field":"c","type":"nominal","scale":{"domain":["k","v","o","u"],"range":["#000000","#bfbfbf","#ed7d31","#5b9bd5"]},"legend":null}}},
{"data":{"name":"mB"},"transform":[{"filter":{"field":"r","equal":"b1"}}],"mark":{"type":"rect","stroke":"#404040","strokeWidth":0.8},"encoding":{"x":{"field":"a","type":"quantitative","axis":null},"x2":{"field":"b"},"y":{"datum":-64.5,"type":"quantitative","axis":null},"y2":{"datum":-66.5},"fill":{"field":"c","type":"nominal","scale":{"domain":["k","v","o","u"],"range":["#000000","#bfbfbf","#ed7d31","#5b9bd5"]},"legend":null}}},
{"data":{"name":"mB"},"transform":[{"filter":{"field":"r","equal":"b2"}}],"mark":{"type":"rect","stroke":"#404040","strokeWidth":0.8},"encoding":{"x":{"field":"a","type":"quantitative","axis":null},"x2":{"field":"b"},"y":{"datum":-67.3,"type":"quantitative","axis":null},"y2":{"datum":-69.3},"fill":{"field":"c","type":"nominal","scale":{"domain":["k","v","o","u"],"range":["#000000","#bfbfbf","#ed7d31","#5b9bd5"]},"legend":null}}},
{"data":{"name":"mB"},"transform":[{"filter":{"field":"r","oneOf":["t1","t2"]}}],"mark":{"type":"text","fontSize":9,"color":"#222222","baseline":"middle"},"encoding":{"x":{"field":"lx","type":"quantitative","axis":null},"y":{"datum":67.0,"type":"quantitative","axis":null},"text":{"field":"g"}}},
{"data":{"name":"mB"},"transform":[{"filter":{"and":[{"field":"r","oneOf":["b1","b2"]},{"not":{"field":"g","equal":"VPg"}}]}}],"mark":{"type":"text","fontSize":9,"color":"#222222","baseline":"middle"},"encoding":{"x":{"field":"lx","type":"quantitative","axis":null},"y":{"datum":-71.8,"type":"quantitative","axis":null},"text":{"field":"g"}}},
{"data":{"name":"mB"},"transform":[{"filter":{"field":"g","equal":"VPg"}}],"mark":{"type":"text","fontSize":9,"color":"#222222","baseline":"middle"},"encoding":{"x":{"field":"lx","type":"quantitative","axis":null},"y":{"datum":-62.6,"type":"quantitative","axis":null},"text":{"field":"g"}}},
{"data":{"values":[{"t":"L","x":462},{"t":"P1","x":2021},{"t":"P2","x":4312},{"t":"P3","x":6574}]},"mark":{"type":"text","fontSize":16,"color":"#000000","baseline":"middle"},"encoding":{"x":{"field":"x","type":"quantitative","axis":null},"y":{"datum":87.8,"type":"quantitative","axis":null},"text":{"field":"t"}}},
{"data":{"values":[{"t":"b"}]},"mark":{"type":"text","fontSize":44,"color":"#000000","baseline":"alphabetic"},"encoding":{"x":{"datum":3496,"type":"quantitative","axis":null},"y":{"datum":99.0,"type":"quantitative","axis":null},"text":{"field":"t"}}},
{"data":{"values":[{"t":"FMDV-SAT1"}]},"mark":{"type":"text","fontSize":18.7,"color":"#ff0000","baseline":"middle"},"encoding":{"x":{"datum":4122,"type":"quantitative","axis":null},"y":{"datum":75.5,"type":"quantitative","axis":null},"text":{"field":"t"}}},
{"data":{"values":[{"t":"HRV-A"}]},"mark":{"type":"text","fontSize":19.5,"color":"#000000","baseline":"middle"},"encoding":{"x":{"datum":4122,"type":"quantitative","axis":null},"y":{"datum":-56.6,"type":"quantitative","axis":null},"text":{"field":"t"}}},
{"data":{"values":[{"t":"tCPo-tCPe"}]},"mark":{"type":"text","fontSize":17.5,"fontWeight":"bold","color":"#000000","baseline":"middle","angle":270},"encoding":{"x":{"datum":-899,"type":"quantitative","axis":null},"y":{"datum":-2.1,"type":"quantitative","axis":null},"text":{"field":"t"}}},
{"data":{"values":[{"t":"NT position"}]},"mark":{"type":"text","fontSize":17.5,"fontWeight":"bold","color":"#000000","baseline":"middle","align":"left"},"encoding":{"x":{"datum":6633,"type":"quantitative","axis":null},"y":{"datum":-18.4,"type":"quantitative","axis":null},"text":{"field":"t"}}}
]}
]
}
